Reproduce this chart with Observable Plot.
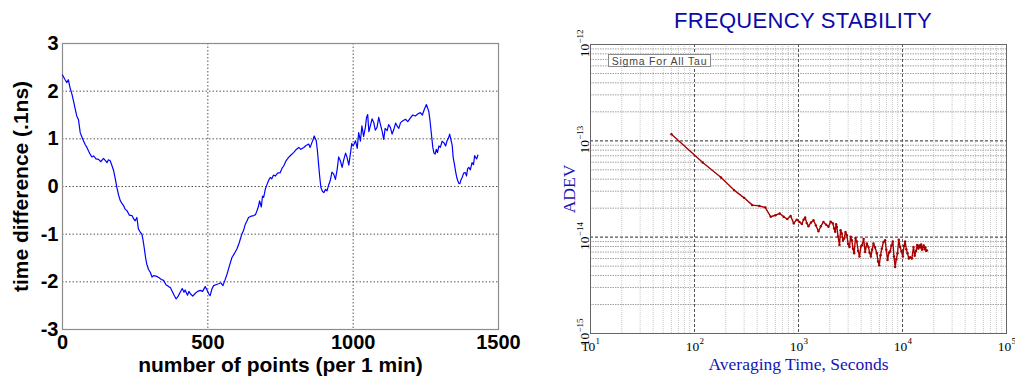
<!DOCTYPE html>
<html>
<head>
<meta charset="utf-8">
<script src="https://cdn.jsdelivr.net/npm/d3@7"></script>
<script src="https://cdn.jsdelivr.net/npm/@observablehq/plot@0.6"></script>
<style>
  html, body { margin: 0; padding: 0; background: #fff; }
  #wrap { position: relative; width: 1015px; height: 376px; overflow: hidden; background: #fff; }
  #wrap svg { position: absolute; top: 0; }
  #title { position: absolute; left: 640px; width: 326px; top: 8px; text-align: center;
           font-family: "Liberation Sans", Arial, sans-serif; font-size: 22px; color: #0a0aa8; letter-spacing: 0.3px; }
  #sigma { position: absolute; left: 608px; top: 54px; width: 103px; height: 13px; border: 1px solid #8a8a8a;
           font-family: "Liberation Sans", Arial, sans-serif; font-size: 10.5px; line-height: 12px; color: #444;
           text-align: center; letter-spacing: 0.8px; box-sizing: border-box; background: #fff; }
</style>
</head>
<body>
<div id="wrap">
  <div id="title">FREQUENCY STABILITY</div>
</div>
<script>
// ---------- Left chart data: time difference vs number of points ----------
const pointIndex = [0,8,15,20,26,32,38,44,49,55,61,66,72,78,84,90,95,101,107,115,124,132,141,147,153,158,164,170,176,182,187,193,199,205,210,216,222,230,239,245,250,256,261,267,273,277,281,286,290,296,302,308,313,322,331,340,348,356,365,371,376,384,391,398,405,412,418,422,430,435,440,448,457,465,474,482,491,498,503,508,514,520,528,537,545,552,558,566,575,583,590,600,608,617,623,629,635,640,650,658,664,669,674,678,684,688,692,698,704,710,715,720,726,732,740,749,755,761,770,778,786,795,803,813,820,830,838,847,852,858,862,866,873,877,881,885,889,894,899,905,910,915,921,927,933,939,945,950,956,962,968,974,979,985,991,995,1000,1008,1014,1019,1025,1030,1036,1042,1046,1050,1054,1059,1065,1071,1076,1082,1088,1094,1100,1105,1110,1117,1122,1128,1134,1140,1146,1151,1157,1163,1171,1180,1188,1197,1205,1214,1222,1231,1238,1245,1252,1256,1260,1264,1268,1274,1278,1282,1286,1290,1295,1300,1306,1312,1318,1323,1328,1332,1337,1341,1344,1348,1352,1356,1360,1364,1367,1371,1375,1380,1386,1390,1394,1398,1403,1409,1414,1418,1421,1425,1429];
const timeDiff = [2.34,2.25,2.18,2.24,2.07,1.95,1.79,1.62,1.48,1.40,1.13,1.05,0.96,0.88,0.82,0.74,0.68,0.62,0.64,0.58,0.57,0.52,0.59,0.55,0.50,0.56,0.54,0.44,0.33,0.15,-0.02,-0.18,-0.30,-0.36,-0.40,-0.48,-0.51,-0.60,-0.61,-0.68,-0.72,-0.65,-0.89,-0.95,-1.00,-1.12,-1.28,-1.50,-1.63,-1.74,-1.80,-1.90,-1.87,-1.88,-1.91,-1.95,-1.97,-2.06,-2.10,-2.12,-2.18,-2.28,-2.36,-2.30,-2.22,-2.14,-2.22,-2.17,-2.28,-2.20,-2.25,-2.30,-2.24,-2.20,-2.18,-2.20,-2.10,-2.18,-2.25,-2.29,-2.15,-2.08,-2.06,-2.04,-2.02,-2.08,-1.98,-1.84,-1.65,-1.49,-1.42,-1.31,-1.18,-1.00,-0.92,-0.79,-0.72,-0.65,-0.62,-0.61,-0.59,-0.51,-0.42,-0.30,-0.43,-0.20,-0.23,-0.05,0.05,0.14,0.19,0.16,0.24,0.22,0.28,0.29,0.38,0.43,0.55,0.61,0.66,0.71,0.77,0.82,0.78,0.82,0.86,0.89,0.82,0.92,0.98,1.06,0.96,0.75,0.47,0.20,-0.02,-0.10,-0.13,-0.06,-0.09,0.02,0.12,0.30,0.26,0.15,0.36,0.62,0.54,0.40,0.57,0.70,0.61,0.45,0.71,0.90,0.85,0.96,0.80,1.13,0.95,1.27,1.05,1.24,1.45,1.51,1.15,1.27,1.42,1.34,1.18,1.24,1.45,1.30,1.15,0.99,1.22,1.17,1.30,1.24,1.10,1.20,1.33,1.27,1.22,1.34,1.38,1.41,1.36,1.44,1.50,1.48,1.52,1.55,1.50,1.62,1.72,1.65,1.58,1.40,1.17,0.82,0.70,0.68,0.78,0.71,0.85,0.82,0.95,0.92,0.85,0.96,1.02,1.10,0.96,0.85,0.61,0.48,0.33,0.20,0.12,0.06,0.06,0.14,0.19,0.28,0.29,0.22,0.38,0.40,0.35,0.50,0.46,0.65,0.61,0.58,0.66];
const leftXTicks = [0, 500, 1000, 1500];
const leftYTicks = [-3, -2, -1, 0, 1, 2, 3];
const leftXLabel = "number of points (per 1 min)";
const leftYLabel = "time difference (.1ns)";

// ---------- Right chart data: Allan deviation ----------
const tauSeconds = [60,120,180,240,300,360,420,480,540,600,660,720,780,840,900,960,1020,1076,1120,1159,1200,1247,1320,1393,1470,1556,1640,1739,1840,1942,2040,2138,2200,2253,2300,2338,2400,2478,2540,2610,2680,2749,2830,2915,3000,3090,3170,3256,3340,3428,3530,3635,3750,3860,3980,4093,4230,4375,4540,4710,4830,4965,5100,5260,5450,5665,5820,5970,6150,6324,6560,6810,6990,7180,7400,7607,7830,8070,8280,8500,8720,8950,9210,9490,9780,10070,10330,10600,10880,11170,11500,11850,12300,12760,13100,13500,13850,14200,14500,14800,15100,15400,15700,16000,16300,16600,16900,17170];
// ADEV in units of 1e-15
const adevE15 = [117,59.6,41.6,30.8,25.6,21.5,21.1,20.3,16.3,16.9,17.6,16.3,15.4,16.6,13.9,15.2,14.4,13.7,15.2,16.0,14.0,13.0,14.2,15.0,13.2,11.5,13.0,14.4,13.5,12.8,14.5,13.9,12.3,11.4,13.6,12.8,10.2,8.3,11.8,10.9,9.2,9.7,11.3,10.5,8.5,7.9,10.1,9.3,7.6,6.8,9.8,9.0,7.2,6.3,8.0,8.3,9.6,7.0,8.6,7.9,6.9,6.3,7.4,8.6,7.8,6.8,5.6,5.1,6.5,7.6,8.9,9.3,7.4,5.8,6.9,7.1,8.2,9.0,6.3,4.9,5.9,6.8,9.4,7.9,7.1,6.3,8.1,9.0,7.5,6.8,6.0,6.2,6.0,7.9,6.4,7.2,8.3,7.6,8.2,7.8,8.4,7.4,7.9,8.2,7.5,7.8,7.2,7.3];
const decadesX = [10, 100, 1000, 10000, 100000];
const decadesY = [1e-15, 1e-14, 1e-13, 1e-12];
const minorMultipliers = [2, 3, 4, 5, 6, 7, 8, 9];
const xExponents = ["1", "2", "3", "4", "5"];
const yExponents = ["\u221215", "\u221214", "\u221213", "\u221212"];
const rightXLabel = "Averaging Time, Seconds";
const rightYLabel = "ADEV";
const legendText = "Sigma For All Tau";

// ---------- Build tables ----------
const leftData = pointIndex.map((x, i) => ({x, v: timeDiff[i]}));
const rightData = tauSeconds.map((t, i) => ({t, a: adevE15[i] * 1e-15}));
const minorX = decadesX.slice(0, -1).flatMap(d => minorMultipliers.map(m => m * d));
const minorY = decadesY.slice(0, -1).flatMap(d => minorMultipliers.map(m => m * d));

const sans = "'Liberation Sans', Arial, Helvetica, sans-serif";
const serif = "'Liberation Serif', 'Times New Roman', serif";

// ---------- Left plot ----------
const left = Plot.plot({
  width: 540, height: 376,
  marginLeft: 62, marginRight: 42, marginTop: 43, marginBottom: 47,
  style: {fontFamily: sans, background: "transparent", overflow: "visible"},
  x: {domain: [0, 1500], axis: null},
  y: {domain: [-3, 3], axis: null},
  marks: [
    Plot.ruleX(leftXTicks.slice(1, -1), {stroke: "#555", strokeDasharray: "1.5,2", strokeWidth: 1}),
    Plot.ruleY(leftYTicks.slice(1, -1), {stroke: "#555", strokeDasharray: "1.5,2", strokeWidth: 1}),
    Plot.frame({stroke: "#8c8c8c", strokeWidth: 1.2}),
    Plot.line(leftData, {x: "x", y: "v", stroke: "#0000ff", strokeWidth: 1.2}),
    Plot.axisX(leftXTicks, {tickSize: 0, tickPadding: 5, fontSize: 20, fontWeight: "bold", fill: "#000", label: null, tickFormat: d => String(d)}),
    Plot.axisY(leftYTicks, {tickSize: 0, tickPadding: 4, fontSize: 20, fontWeight: "bold", fill: "#000", label: null, tickFormat: d => String(d)}),
    Plot.text([leftXLabel], {frameAnchor: "bottom", lineAnchor: "middle", textAnchor: "middle", dy: 36, fontSize: 21, fontWeight: "bold", fill: "#000"}),
    Plot.text([leftYLabel], {frameAnchor: "left", textAnchor: "middle", dx: -41, rotate: -90, fontSize: 21, fontWeight: "bold", fill: "#000"})
  ]
});
left.style.left = "0px";
document.getElementById("wrap").appendChild(left);

// ---------- Right plot ----------
const right = Plot.plot({
  width: 475, height: 376,
  marginLeft: 50, marginRight: 9, marginTop: 44, marginBottom: 43,
  style: {fontFamily: serif, background: "transparent", overflow: "visible"},
  x: {type: "log", domain: [10, 1e5], axis: null},
  y: {type: "log", domain: [1e-15, 1e-12], axis: null},
  marks: [
    Plot.ruleX(minorX, {stroke: "#c8c8c8", strokeDasharray: "1,1", strokeWidth: 1}),
    Plot.ruleY(minorY, {stroke: "#a0a0a0", strokeDasharray: "1.5,1", strokeWidth: 1}),
    Plot.ruleX(decadesX.slice(1, -1), {stroke: "#555", strokeDasharray: "3,2", strokeWidth: 1}),
    Plot.ruleY(decadesY.slice(1, -1), {stroke: "#555", strokeDasharray: "3,2", strokeWidth: 1.2}),
    Plot.frame({stroke: "#666", strokeWidth: 1}),
    Plot.line(rightData, {x: "t", y: "a", stroke: "#a80000", strokeWidth: 1.4}),
    Plot.dot(rightData, {x: "t", y: "a", r: 1.2, fill: "#a80000"}),
    // x tick labels: base and exponent
    Plot.text(decadesX, {x: d => d, frameAnchor: "bottom", lineAnchor: "middle", textAnchor: "middle", dy: 13.5, dx: -2, text: () => "10", fontSize: 13.5, fill: "#000"}),
    Plot.text(decadesX, {x: d => d, frameAnchor: "bottom", lineAnchor: "middle", dy: 8, dx: 5, text: (d, i) => xExponents[i], textAnchor: "start", fontSize: 9, fill: "#000"}),
    // y tick labels: rotated base and exponent
    Plot.text(decadesY, {y: d => d, frameAnchor: "left", textAnchor: "middle", dx: -6, dy: 6, rotate: -90, text: () => "10", fontSize: 13.5, fill: "#000"}),
    Plot.text(decadesY, {y: d => d, frameAnchor: "left", dx: -10, dy: -1, rotate: -90, text: (d, i) => yExponents[i], textAnchor: "start", fontSize: 9, fill: "#000"}),
    Plot.text([rightXLabel], {frameAnchor: "bottom", lineAnchor: "middle", textAnchor: "middle", dy: 30.5, fontSize: 17.5, fill: "#1414b4"}),
    Plot.text([rightYLabel], {frameAnchor: "left", textAnchor: "middle", dx: -21, rotate: -90, fontSize: 17.5, fill: "#1414b4"})
  ]
});
right.style.left = "540px";
document.getElementById("wrap").appendChild(right);

const sig = document.createElement("div");
sig.id = "sigma";
sig.textContent = legendText;
document.getElementById("wrap").appendChild(sig);
</script>
</body>
</html>
